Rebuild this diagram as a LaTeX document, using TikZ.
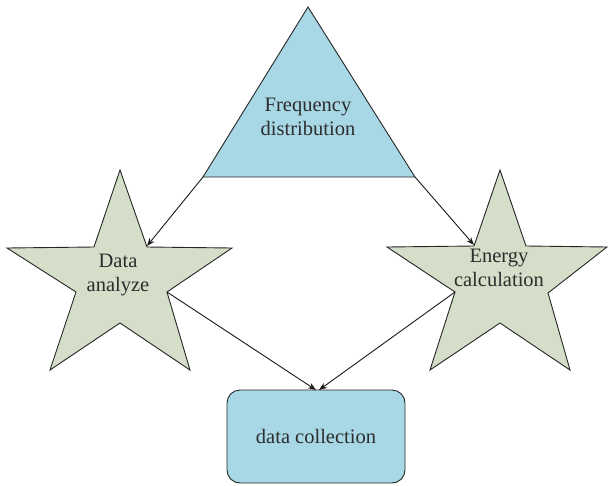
\documentclass[tikz,border=0pt]{standalone}
\usepackage{fontspec}
\setmainfont{Liberation Serif}
\usetikzlibrary{arrows.meta}
\definecolor{boxblue}{RGB}{168,216,230}
\definecolor{stargreen}{RGB}{213,222,200}
\definecolor{txt}{RGB}{45,45,45}
\tikzset{
  shapeline/.style={draw=black!85, line width=0.9pt, line join=miter},
  lbl/.style={text=txt, font=\fontsize{20.5}{24}\selectfont, align=center, inner sep=0pt},
  conn/.style={draw=black!90, line width=0.9pt, -{Stealth[length=8pt,width=6pt]}}
}
\begin{document}
\begin{tikzpicture}[x=1pt,y=-1pt]
\useasboundingbox (0,0) rectangle (608,485);
% triangle
\draw[shapeline, fill=boxblue] (308,7) -- (415,177) -- (203,177) -- cycle;
\node[lbl] (freq) at (308,117) {Frequency\\distribution};
\coordinate (triL) at (203,177);
\coordinate (triR) at (415,177);
% left star
\draw[shapeline, fill=stargreen] (120,170) -- (147,247) -- (232,248) -- (167,292) -- (190,370) -- (120,323) -- (50,370) -- (76,292) -- (7,248) -- (94,247) -- cycle;
\node[lbl] (data) at (118,275) {Data\\analyze};
\coordinate (sLin) at (147,246);
\coordinate (sLout) at (167,292);
% right star
\draw[shapeline, fill=stargreen] (500,170) -- (526,246) -- (607,247) -- (548,293) -- (570,370) -- (500,323) -- (430,370) -- (455,292) -- (387,247) -- (474,246) -- cycle;
\node[lbl] (energy) at (499,268) {Energy\\calculation};
\coordinate (sRin) at (474,245);
\coordinate (sRout) at (455,292);
% box
\node[shapeline, fill=boxblue, rounded corners=13pt, minimum width=178pt, minimum height=93pt, inner sep=0pt] (coll) at (316,436.5) {};
\node[lbl] (colltxt) at (coll.center) {data collection};
\coordinate (bTop) at (316,390);
\coordinate (bTop2) at (319,390);
% arrows
\draw[conn] (triL) -- (sLin);
\draw[conn] (triR) -- (sRin);
\draw[conn] (sLout) -- (bTop);
\draw[conn] (sRout) -- (bTop2);
\end{tikzpicture}
\end{document}
